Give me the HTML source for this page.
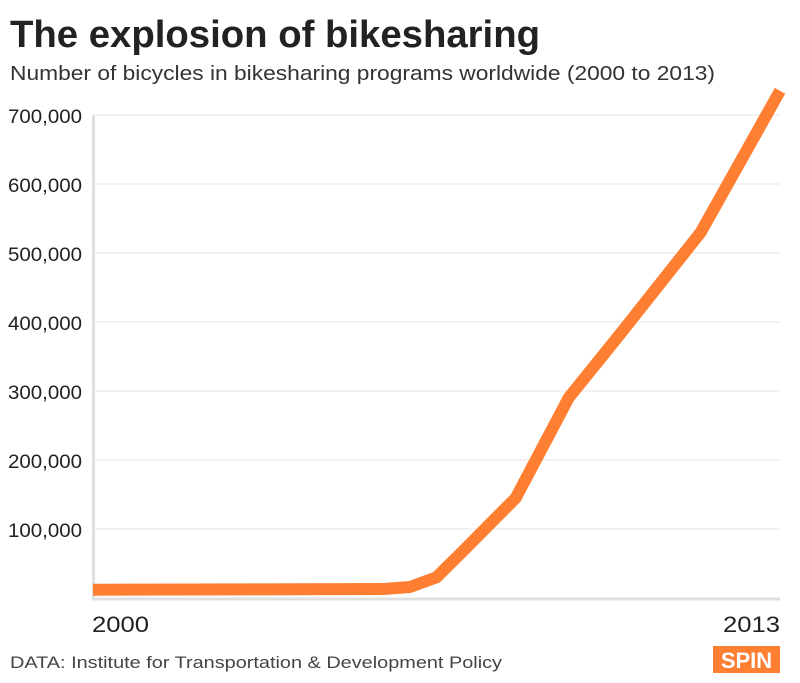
<!DOCTYPE html>
<html><head><meta charset="utf-8"><style>
body{margin:0;background:#fff;width:800px;height:678px;overflow:hidden;font-family:"Liberation Sans",sans-serif}
</style></head><body>
<svg width="800" height="678">
<text x="10" y="47" font-size="38" font-weight="bold" fill="#222" textLength="530" lengthAdjust="spacingAndGlyphs">The explosion of bikesharing</text>
<text x="10" y="80" font-size="20" fill="#333" textLength="705" lengthAdjust="spacingAndGlyphs">Number of bicycles in bikesharing programs worldwide (2000 to 2013)</text>
<g id="grid"></g>
<line x1="93.5" y1="115" x2="93.5" y2="599" stroke="#e0e0e0" stroke-width="3"/>
<line x1="92" y1="599" x2="780" y2="599" stroke="#e0e0e0" stroke-width="3"/>
<g id="ylabels"></g>
<text x="92" y="632" font-size="22" fill="#222" textLength="57" lengthAdjust="spacingAndGlyphs">2000</text>
<text x="723" y="632" font-size="22" fill="#222" textLength="57" lengthAdjust="spacingAndGlyphs">2013</text>
<path id="line" fill="none" stroke="#ff7f32" stroke-width="12" stroke-linejoin="miter"/>
<text x="10" y="668" font-size="17" fill="#444" textLength="492" lengthAdjust="spacingAndGlyphs">DATA: Institute for Transportation &amp; Development Policy</text>
<rect x="713" y="646" width="67" height="27" fill="#ff7f32"/>
<text x="746.5" y="668" font-size="22" font-weight="bold" fill="#fff" text-anchor="middle">SPIN</text>
</svg>
<script>
const years=[2000,2005.5,2006,2006.5,2007,2008,2009,2010,2011.5,2013];
const bikes=[12000,13000,16000,30000,68000,145000,290000,385000,530000,735000];
const yTicks=[100000,200000,300000,400000,500000,600000,700000];
const yTickLabels=["100,000","200,000","300,000","400,000","500,000","600,000","700,000"];
const x=v=>93+(v-2000)/13*687;
const y=v=>598-v/100000*69;
const ns="http://www.w3.org/2000/svg";
const grid=document.getElementById('grid'),yl=document.getElementById('ylabels');
yTicks.forEach((t,i)=>{
 const l=document.createElementNS(ns,'line');
 l.setAttribute('x1',93);l.setAttribute('x2',780);l.setAttribute('y1',y(t));l.setAttribute('y2',y(t));
 l.setAttribute('stroke','#e6e6e6');l.setAttribute('stroke-width','1');
 
 
 grid.appendChild(l);
 const tx=document.createElementNS(ns,'text');
 tx.setAttribute('x',8);tx.setAttribute('y',y(t)+8);
 tx.setAttribute('font-size','19');tx.setAttribute('fill','#222');
 tx.setAttribute('textLength','74');tx.setAttribute('lengthAdjust','spacingAndGlyphs');
 tx.textContent=yTickLabels[i];
 
 
 yl.appendChild(tx);
});
document.getElementById('line').setAttribute('d',years.map((v,i)=>(i?'L':'M')+x(v)+','+y(bikes[i])).join(''));
</script>
</body></html>
